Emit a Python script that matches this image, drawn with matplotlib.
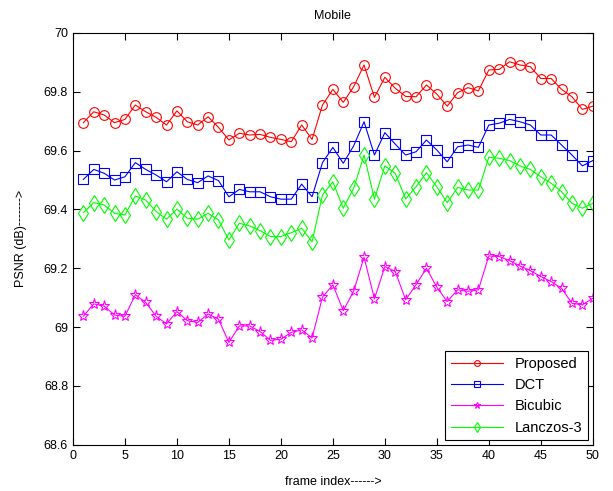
import matplotlib
matplotlib.use('Agg')
import matplotlib.pyplot as plt
import numpy as np

frames = np.arange(1, 51)

proposed = [69.695, 69.732, 69.721, 69.695, 69.706, 69.755, 69.732, 69.713, 69.687, 69.735,
            69.698, 69.687, 69.715, 69.679, 69.636, 69.659, 69.653, 69.655, 69.645, 69.638,
            69.630, 69.687, 69.638, 69.755, 69.808, 69.764, 69.817, 69.891, 69.781, 69.849,
            69.812, 69.784, 69.783, 69.823, 69.792, 69.751, 69.797, 69.814, 69.803, 69.874,
            69.876, 69.902, 69.891, 69.885, 69.845, 69.845, 69.808, 69.783, 69.740, 69.751]

dct = [69.502, 69.536, 69.523, 69.500, 69.511, 69.559, 69.536, 69.517, 69.494, 69.528,
       69.502, 69.491, 69.514, 69.498, 69.443, 69.468, 69.460, 69.460, 69.443, 69.435,
       69.435, 69.486, 69.443, 69.559, 69.611, 69.557, 69.616, 69.698, 69.585, 69.661,
       69.622, 69.585, 69.596, 69.636, 69.602, 69.562, 69.613, 69.619, 69.611, 69.687,
       69.693, 69.706, 69.698, 69.687, 69.653, 69.653, 69.619, 69.585, 69.548, 69.566]

bicubic = [69.037, 69.079, 69.072, 69.041, 69.037, 69.110, 69.084, 69.037, 69.011, 69.053,
           69.022, 69.016, 69.045, 69.027, 68.948, 69.004, 69.004, 68.985, 68.955, 68.959,
           68.982, 68.991, 68.963, 69.102, 69.144, 69.056, 69.122, 69.238, 69.096, 69.206,
           69.189, 69.093, 69.144, 69.200, 69.136, 69.087, 69.127, 69.122, 69.127, 69.242,
           69.240, 69.226, 69.208, 69.192, 69.172, 69.155, 69.132, 69.081, 69.076, 69.098]

lanczos = [69.389, 69.423, 69.415, 69.387, 69.381, 69.446, 69.432, 69.393, 69.367, 69.401,
           69.370, 69.367, 69.387, 69.364, 69.296, 69.353, 69.344, 69.328, 69.308, 69.308,
           69.321, 69.336, 69.290, 69.449, 69.494, 69.404, 69.472, 69.585, 69.435, 69.548,
           69.523, 69.436, 69.477, 69.525, 69.477, 69.423, 69.475, 69.466, 69.466, 69.577,
           69.574, 69.566, 69.548, 69.536, 69.511, 69.489, 69.460, 69.421, 69.404, 69.421]

plt.rcParams['font.family'] = ['Liberation Sans', 'DejaVu Sans']
plt.rcParams['font.size'] = 9

fig = plt.figure(figsize=(6.13, 4.91), dpi=100)
ax = fig.add_axes([0.119, 0.094, 0.848, 0.839])

ax.plot(frames, proposed, '-o', color='red', lw=0.8, ms=7, mfc='none', mew=0.8, label='Proposed')
ax.plot(frames, dct, '-s', color='blue', lw=0.8, ms=7.5, mfc='none', mew=0.8, label='DCT')
ax.plot(frames, bicubic, '-*', color='magenta', lw=0.8, ms=8, mfc='none', mew=0.8, label='Bicubic')
ax.plot(frames, lanczos, '-d', color='#00ff00', lw=0.8, ms=8, mfc='none', mew=0.8, label='Lanczos-3')

ax.set_xlim(0, 50)
ax.set_ylim(68.6, 70)
ax.set_xticks(np.arange(0, 51, 5))
ax.set_yticks(np.arange(68.6, 70.01, 0.2))
ax.set_yticklabels(['68.6', '68.8', '69', '69.2', '69.4', '69.6', '69.8', '70'])
ax.tick_params(direction='in', top=True, right=True, length=5, width=0.8)

ax.set_title('Mobile', fontsize=9, pad=10)
ax.set_xlabel('frame index------>', labelpad=10)
ax.set_ylabel('PSNR (dB)------->', labelpad=12)

leg = ax.legend(loc='lower right', fancybox=False, framealpha=1, edgecolor='black',
                fontsize=10.5, markerscale=0.6, handlelength=3.6, borderaxespad=0.3)
leg.get_frame().set_linewidth(0.8)

fig.savefig('out.png', dpi=100)
